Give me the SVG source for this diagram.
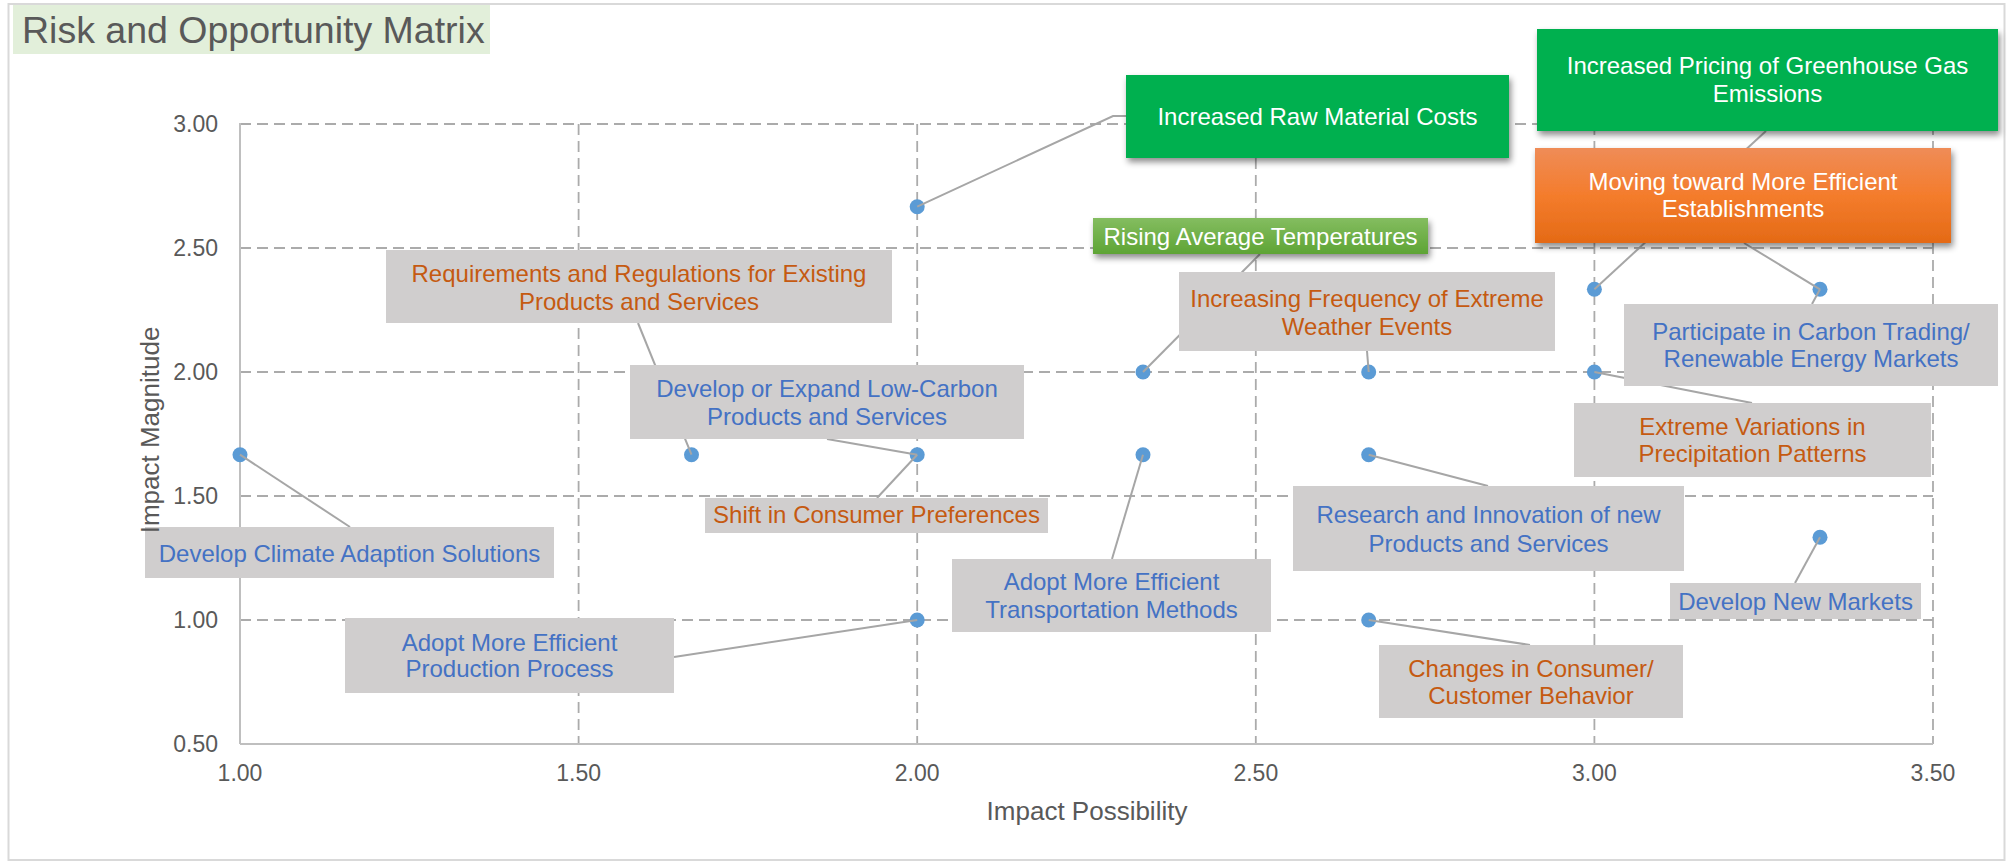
<svg xmlns="http://www.w3.org/2000/svg" width="2010" height="863" viewBox="0 0 2010 863">
<style>
.grid{stroke:#ABABAB;stroke-width:1.8;stroke-dasharray:11 6;fill:none}
.axis{stroke:#BFBFBF;stroke-width:2;fill:none}
.lead{stroke:#A6A6A6;stroke-width:2;fill:none}
.pt{fill:#5B9BD5}
.lbl{fill:#D0CECE}
.t{font-family:"Liberation Sans",Arial,sans-serif;font-size:24px;text-anchor:middle}
.o{fill:#C55A11}
.b{fill:#4472C4}
.w{fill:#FFFFFF}
.tk{font-family:"Liberation Sans",Arial,sans-serif;font-size:23px;fill:#595959}
.ax{font-family:"Liberation Sans",Arial,sans-serif;font-size:26px;fill:#595959;text-anchor:middle}
</style>
<defs>
<filter id="sh" x="-10%" y="-20%" width="125%" height="150%">
<feDropShadow dx="2" dy="4" stdDeviation="3" flood-color="#000" flood-opacity="0.45"/>
</filter>
<linearGradient id="gOr" x1="0" y1="0" x2="0" y2="1">
<stop offset="0" stop-color="#EF8C57"/>
<stop offset="0.5" stop-color="#F47C2C"/>
<stop offset="1" stop-color="#E46A16"/>
</linearGradient>
<linearGradient id="gGr" x1="0" y1="0" x2="0" y2="1">
<stop offset="0" stop-color="#84BD60"/>
<stop offset="1" stop-color="#5EA435"/>
</linearGradient>
</defs>
<rect x="0" y="0" width="2010" height="863" fill="#FFFFFF"/>
<rect x="8.5" y="4" width="1996" height="856" fill="#FFFFFF" stroke="#D9D9D9" stroke-width="2"/>
<g id="title">
<rect x="13" y="5" width="477" height="49" fill="#E2EFDA"/>
<text x="22" y="43" font-family="Liberation Sans, Arial, sans-serif" font-size="37.5" fill="#595959">Risk and Opportunity Matrix</text>
</g>
<g id="gridlines">
<line class="grid" x1="240" y1="620" x2="1933" y2="620"/>
<line class="grid" x1="240" y1="496" x2="1933" y2="496"/>
<line class="grid" x1="240" y1="372" x2="1933" y2="372"/>
<line class="grid" x1="240" y1="248" x2="1933" y2="248"/>
<line class="grid" x1="240" y1="124" x2="1933" y2="124"/>
<line class="grid" x1="578.6" y1="124" x2="578.6" y2="744"/>
<line class="grid" x1="917.2" y1="124" x2="917.2" y2="744"/>
<line class="grid" x1="1255.8" y1="124" x2="1255.8" y2="744"/>
<line class="grid" x1="1594.4" y1="124" x2="1594.4" y2="744"/>
<line class="grid" x1="1933" y1="124" x2="1933" y2="744"/>
</g>
<g id="axes">
<line class="axis" x1="240" y1="123" x2="240" y2="744"/>
<line class="axis" x1="240" y1="744" x2="1933" y2="744"/>
<g class="tk" text-anchor="end">
<text x="218" y="752">0.50</text>
<text x="218" y="628">1.00</text>
<text x="218" y="504">1.50</text>
<text x="218" y="380">2.00</text>
<text x="218" y="256">2.50</text>
<text x="218" y="132">3.00</text>
</g>
<g class="tk" text-anchor="middle">
<text x="240" y="781">1.00</text>
<text x="578.6" y="781">1.50</text>
<text x="917.2" y="781">2.00</text>
<text x="1255.8" y="781">2.50</text>
<text x="1594.4" y="781">3.00</text>
<text x="1933" y="781">3.50</text>
</g>
<text class="ax" x="1087" y="820">Impact Possibility</text>
</g>
<g id="points">
<circle class="pt" cx="240" cy="454.7" r="7.5"/>
<circle class="pt" cx="691.5" cy="454.7" r="7.5"/>
<circle class="pt" cx="917.2" cy="206.7" r="7.5"/>
<circle class="pt" cx="917.2" cy="454.7" r="7.5"/>
<circle class="pt" cx="917.2" cy="620" r="7.5"/>
<circle class="pt" cx="1143" cy="372" r="7.5"/>
<circle class="pt" cx="1143" cy="454.7" r="7.5"/>
<circle class="pt" cx="1368.7" cy="372" r="7.5"/>
<circle class="pt" cx="1368.7" cy="454.7" r="7.5"/>
<circle class="pt" cx="1368.7" cy="620" r="7.5"/>
<circle class="pt" cx="1594.4" cy="289.3" r="7.5"/>
<circle class="pt" cx="1594.4" cy="372" r="7.5"/>
<circle class="pt" cx="1820" cy="289.3" r="7.5"/>
<circle class="pt" cx="1820" cy="537.3" r="7.5"/>
</g>
<g id="connectors">
<line class="lead" x1="240" y1="454.7" x2="350" y2="527"/>
<line class="lead" x1="691.5" y1="454.7" x2="638" y2="323"/>
<polyline class="lead" points="917.2,206.7 1113,116 1126,116"/>
<line class="lead" x1="917.2" y1="454.7" x2="827" y2="439"/>
<line class="lead" x1="917.2" y1="454.7" x2="877" y2="498"/>
<line class="lead" x1="917.2" y1="620" x2="674" y2="657"/>
<line class="lead" x1="1143" y1="372" x2="1260" y2="254"/>
<line class="lead" x1="1143" y1="454.7" x2="1112" y2="559"/>
<line class="lead" x1="1368.7" y1="372" x2="1367" y2="351"/>
<line class="lead" x1="1368.7" y1="454.7" x2="1488" y2="486"/>
<line class="lead" x1="1368.7" y1="620" x2="1530" y2="645"/>
<line class="lead" x1="1594.4" y1="289.3" x2="1766" y2="131"/>
<line class="lead" x1="1594.4" y1="372" x2="1752" y2="403"/>
<line class="lead" x1="1820" y1="289.3" x2="1744" y2="243"/>
<line class="lead" x1="1820" y1="289.3" x2="1812" y2="304"/>
<line class="lead" x1="1820" y1="537.3" x2="1795" y2="583"/>
</g>
<g id="n-climate">
<rect class="lbl" x="145" y="527" width="409" height="51"/>
<text class="t b" x="349.5" y="562">Develop Climate Adaption Solutions</text>
</g>
<g id="n-requirements">
<rect class="lbl" x="386" y="250" width="506" height="73"/>
<text class="t o" x="639" y="282">Requirements and Regulations for Existing</text>
<text class="t o" x="639" y="310">Products and Services</text>
</g>
<g id="n-lowcarbon">
<rect class="lbl" x="630" y="365" width="394" height="74"/>
<text class="t b" x="827" y="397">Develop or Expand Low-Carbon</text>
<text class="t b" x="827" y="425">Products and Services</text>
</g>
<g id="n-shift">
<rect class="lbl" x="705" y="498" width="343" height="35"/>
<text class="t o" x="876.5" y="523">Shift in Consumer Preferences</text>
</g>
<g id="n-production">
<rect class="lbl" x="345" y="618" width="329" height="75"/>
<text class="t b" x="509.5" y="651">Adopt More Efficient</text>
<text class="t b" x="509.5" y="677">Production Process</text>
</g>
<g id="n-transport">
<rect class="lbl" x="952" y="559" width="319" height="73"/>
<text class="t b" x="1111.5" y="590">Adopt More Efficient</text>
<text class="t b" x="1111.5" y="618">Transportation Methods</text>
</g>
<g id="n-weather">
<rect class="lbl" x="1179" y="272" width="376" height="79"/>
<text class="t o" x="1367" y="307">Increasing Frequency of Extreme</text>
<text class="t o" x="1367" y="335">Weather Events</text>
</g>
<g id="n-research">
<rect class="lbl" x="1293" y="486" width="391" height="85"/>
<text class="t b" x="1488.5" y="523">Research and Innovation of new</text>
<text class="t b" x="1488.5" y="552">Products and Services</text>
</g>
<g id="n-behavior">
<rect class="lbl" x="1379" y="645" width="304" height="73"/>
<text class="t o" x="1531" y="677">Changes in Consumer/</text>
<text class="t o" x="1531" y="704">Customer Behavior</text>
</g>
<g id="n-extreme">
<rect class="lbl" x="1574" y="403" width="357" height="74"/>
<text class="t o" x="1752.5" y="435">Extreme Variations in</text>
<text class="t o" x="1752.5" y="462">Precipitation Patterns</text>
</g>
<g id="n-carbon">
<rect class="lbl" x="1624" y="304" width="374" height="82"/>
<text class="t b" x="1811" y="340">Participate in Carbon Trading/</text>
<text class="t b" x="1811" y="367">Renewable Energy Markets</text>
</g>
<g id="n-markets">
<rect class="lbl" x="1670" y="583" width="251" height="36"/>
<text class="t b" x="1795.5" y="610">Develop New Markets</text>
</g>
<g id="n-raw">
<rect x="1126" y="75" width="383" height="83" fill="#00B050" filter="url(#sh)"/>
<text class="t w" x="1317.5" y="125">Increased Raw Material Costs</text>
</g>
<g id="n-pricing">
<rect x="1537" y="29" width="461" height="102" fill="#00B050" filter="url(#sh)"/>
<text class="t w" x="1767.5" y="74">Increased Pricing of Greenhouse Gas</text>
<text class="t w" x="1767.5" y="102">Emissions</text>
</g>
<g id="n-moving">
<rect x="1535" y="148" width="416" height="95" fill="url(#gOr)" filter="url(#sh)"/>
<text class="t w" x="1743" y="190">Moving toward More Efficient</text>
<text class="t w" x="1743" y="217">Establishments</text>
</g>
<g id="n-rising">
<rect x="1093" y="218" width="335" height="36" fill="url(#gGr)" filter="url(#sh)"/>
<text class="t w" x="1260.5" y="245">Rising Average Temperatures</text>
</g>
<g id="y-axis-title">
<text class="ax" transform="translate(159,430) rotate(-90)">Impact Magnitude</text>
</g>
</svg>
